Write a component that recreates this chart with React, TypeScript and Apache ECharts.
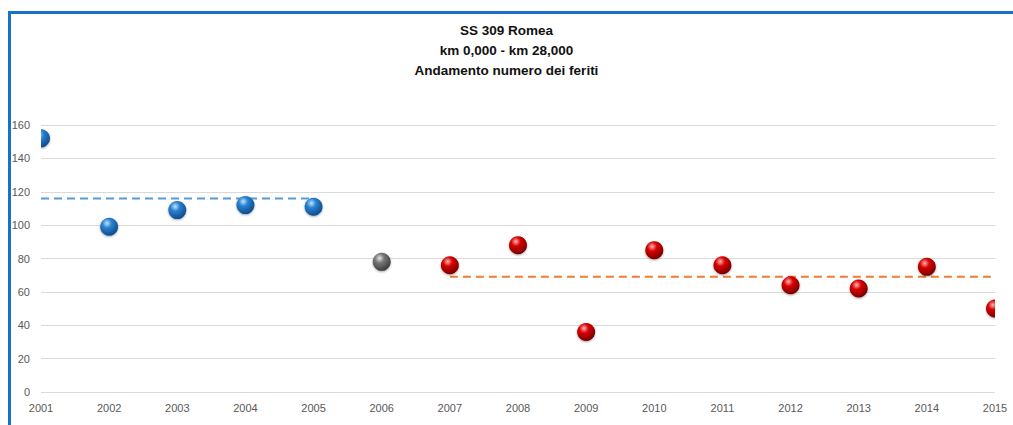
import React, { useEffect, useRef } from "react";
import * as echarts from "echarts";

const years = ["2001","2002","2003","2004","2005","2006","2007","2008","2009","2010","2011","2012","2013","2014","2015"];
const injured = [152, 99, 109, 112, 111, 78, 76, 88, 36, 85, 76, 64, 62, 75, 50];
const ballGroup = ["blue","blue","blue","blue","blue","gray","red","red","red","red","red","red","red","red","red"];
const avgBefore = [116, 116, 116, 116, 116, null, null, null, null, null, null, null, null, null, null];
const avgAfter = [null, null, null, null, null, null, 69, 69, 69, 69, 69, 69, 69, 69, 69];
const titleLines = ["SS 309 Romea", "km 0,000 - km 28,000", "Andamento numero dei feriti"];

const ballColors: Record<string, string[]> = {
  blue: ["#bfe3ff", "#2a80cf", "#0a4787"],
  gray: ["#e6e6e6", "#777777", "#363636"],
  red: ["#ffb3b3", "#d80000", "#6e0000"],
};

function ballFill(g: string) {
  const c = ballColors[g];
  return new echarts.graphic.RadialGradient(0.38, 0.3, 0.75, [
    { offset: 0, color: c[0] },
    { offset: 0.35, color: c[1] },
    { offset: 1, color: c[2] },
  ]);
}

export default function App() {
  const ref = useRef<HTMLDivElement>(null);
  useEffect(() => {
    if (!ref.current) return;
    const chart = echarts.init(ref.current, null, { renderer: "svg" });
    chart.setOption({
      animation: false,
      backgroundColor: "#ffffff",
      title: {
        text: titleLines.join("\n"),
        left: "center",
        top: 15,
        textStyle: { fontFamily: "Liberation Sans", fontSize: 13.5, fontWeight: "bold", color: "#111", lineHeight: 20 },
      },
      graphic: [
        {
          type: "rect",
          shape: { x: 9.5, y: 12.5, width: 1040, height: 440 },
          style: { fill: "none", stroke: "#1a72c4", lineWidth: 3 },
          silent: true,
        },
      ],
      grid: { left: 41, right: 18, top: 125, bottom: 33 },
      xAxis: {
        type: "category",
        data: years,
        boundaryGap: false,
        axisLine: { show: false },
        axisTick: { show: false },
        axisLabel: { color: "#595959", fontSize: 11, fontFamily: "Liberation Sans", margin: 10 },
      },
      yAxis: {
        type: "value",
        min: 0,
        max: 160,
        interval: 20,
        axisLine: { show: false },
        axisTick: { show: false },
        splitLine: { lineStyle: { color: "#d9d9d9", width: 1 } },
        axisLabel: { color: "#595959", fontSize: 11, fontFamily: "Liberation Sans", margin: 11 },
      },
      series: [
        {
          type: "line",
          data: avgBefore,
          symbol: "none",
          lineStyle: { color: "#5b9bd5", width: 2, type: [8, 5] },
          z: 1,
        },
        {
          type: "line",
          data: avgAfter,
          symbol: "none",
          lineStyle: { color: "#ed7d31", width: 2, type: [8, 5] },
          z: 1,
        },
        {
          type: "custom",
          clip: true,
          z: 3,
          data: injured.map((v, i) => [i, v]),
          renderItem: (params: any, api: any) => {
            const pt = api.coord([api.value(0), api.value(1)]);
            const g = ballGroup[params.dataIndex];
            return {
              type: "circle",
              shape: { cx: pt[0], cy: pt[1], r: 9 },
              style: { fill: ballFill(g), shadowBlur: 2, shadowColor: "rgba(0,0,0,0.35)", shadowOffsetY: 1 },
            };
          },
        },
      ],
    });
    return () => chart.dispose();
  }, []);
  return <div ref={ref} style={{ position: "fixed", left: 0, top: 0, width: 1013, height: 425 }} />;
}
